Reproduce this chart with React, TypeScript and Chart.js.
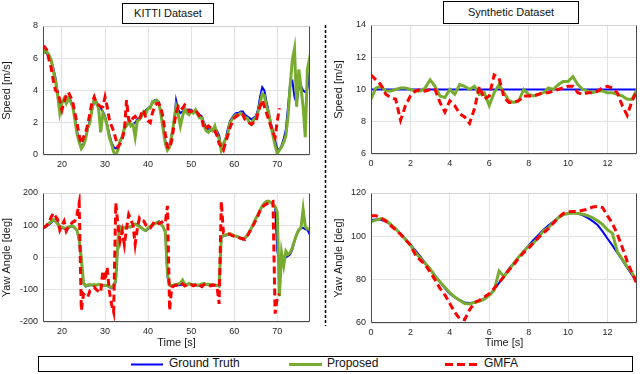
import React, { useEffect, useRef } from "react";
import { Chart, registerables } from "chart.js";

Chart.register(...registerables);

// ---------------- DATA ----------------
const panelTitles = ["KITTI Dataset", "Synthetic Dataset"];
const legendLabels = ["Ground Truth", "Proposed", "GMFA"];
const speedTitle = "Speed [m/s]";
const yawTitle = "Yaw Angle [deg]";
const timeTitle = "Time [s]";

const kittiTime = [
  15.5, 16, 16.5, 17, 17.5, 18, 18.5, 19, 19.5, 20,
  20.5, 21, 21.5, 22, 22.5, 23, 23.5, 24, 24.5, 25,
  25.5, 26, 26.5, 27, 27.5, 28, 28.5, 29, 29.5, 30,
  30.5, 31, 31.5, 32, 32.5, 33, 33.5, 34, 34.5, 35,
  35.5, 36, 36.5, 37, 37.5, 38, 38.5, 39, 39.5, 40,
  40.5, 41, 41.5, 42, 42.5, 43, 43.5, 44, 44.5, 45,
  45.5, 46, 46.5, 47, 47.5, 48, 48.5, 49, 49.5, 50,
  50.5, 51, 51.5, 52, 52.5, 53, 53.5, 54, 54.5, 55,
  55.5, 56, 56.5, 57, 57.5, 58, 58.5, 59, 59.5, 60,
  60.5, 61, 61.5, 62, 62.5, 63, 63.5, 64, 64.5, 65,
  65.5, 66, 66.5, 67, 67.5, 68, 68.5, 69, 69.5, 70,
  70.5, 71, 71.5, 72, 72.5, 73, 73.5, 74, 74.5, 75,
  75.5, 76, 76.5, 77, 77.5, 78,
];

const kittiSpeedTruth = [
  6.4, 6.4, 6.3, 6.1, 5.8, 5.4, 4.8, 3.9, 3.1, 3.3,
  3.4, 3.3, 3.4, 3.4, 3.1, 2.4, 1.5, 0.9, 0.5, 0.7,
  1.1, 1.6, 2.2, 2.8, 3.3, 3.3, 3.0, 2.9, 2.7, 2.4,
  1.9, 1.3, 0.8, 0.5, 0.4, 0.5, 0.8, 1.2, 1.6, 1.9,
  2.0, 1.9, 1.9, 2.0, 2.2, 2.3, 2.5, 2.6, 2.8, 2.9,
  3.0, 3.2, 3.4, 3.4, 3.3, 2.7, 1.8, 0.9, 0.5, 0.6,
  1.3, 2.0, 3.4, 2.8, 2.6, 2.7, 2.8, 2.8, 2.8, 2.8,
  2.7, 2.7, 2.6, 2.5, 2.4, 2.0, 1.7, 1.6, 1.5, 1.6,
  1.7, 1.5, 1.2, 0.5, 0.6, 1.0, 1.6, 2.1, 2.3, 2.5,
  2.6, 2.6, 2.7, 2.7, 2.5, 2.4, 2.3, 2.2, 2.3, 2.4,
  2.8, 3.6, 4.2, 4.0, 3.3, 2.7, 2.0, 1.5, 0.9, 0.4,
  0.3, 0.6, 1.0, 1.6, 3.0, 4.5, 4.6, 3.6, 3.2, 4.2,
  4.3, 4.0, 3.9, 4.1, 5.2, 5.5,
];

const kittiSpeedProposed = [
  6.2, 6.6, 6.4, 6.2, 5.9, 5.2, 4.6, 3.7, 2.6, 3.2,
  3.5, 3.2, 3.5, 3.3, 3.0, 2.2, 1.3, 0.8, 0.4, 0.6,
  1.0, 1.7, 2.0, 2.9, 3.5, 3.2, 2.9, 1.4, 2.6, 2.3,
  1.8, 1.1, 0.7, 0.2, 0.0, 0.3, 0.9, 1.1, 1.7, 1.8,
  2.1, 1.8, 1.9, 1.1, 2.1, 2.2, 2.4, 2.7, 2.6, 2.9,
  2.9, 3.3, 3.3, 3.4, 3.2, 2.5, 1.6, 0.7, 0.3, 0.5,
  1.2, 2.1, 3.0, 2.5, 1.8, 2.4, 2.9, 2.6, 2.5, 2.7,
  2.6, 2.8, 2.5, 2.3, 2.3, 1.8, 1.5, 1.4, 1.6, 1.5,
  1.8, 1.3, 1.0, 0.3, 0.7, 1.0, 1.3, 2.0, 2.2, 2.4,
  2.5, 2.5, 2.6, 2.5, 2.3, 2.3, 2.0, 1.9, 2.2, 2.3,
  2.6, 3.2, 3.8, 3.7, 3.0, 2.6, 1.8, 1.2, 0.6, 0.1,
  0.3, 0.5, 0.8, 1.2, 2.4, 4.3, 5.9, 6.6, 3.0, 5.3,
  4.2, 3.0, 1.1, 5.3, 6.0, 5.8,
];

const kittiSpeedGmfa = [
  6.8, 6.7, 6.5, 5.9, 5.4, 4.6, 4.0, 3.9, 3.4, 2.8,
  3.3, 3.7, 3.9, 3.6, 3.3, 2.6, 2.0, 1.2, 0.7, 1.1,
  1.4, 1.9, 2.6, 3.3, 3.6, 3.2, 3.1, 3.0, 3.0, 3.6,
  3.0, 2.2, 1.8, 1.5, 1.0, 0.5, 0.7, 1.0, 1.5, 3.4,
  2.2, 2.0, 2.3, 2.4, 2.2, 2.2, 2.6, 2.8, 2.2, 2.1,
  2.0, 2.6, 3.0, 3.2, 3.2, 2.9, 2.3, 1.3, 0.5, 0.4,
  0.9, 1.8, 2.6, 3.0, 2.8, 2.9, 3.1, 3.0, 2.7, 2.7,
  2.8, 2.8, 2.6, 2.4, 2.2, 1.6, 1.7, 1.8, 1.7, 1.6,
  1.5, 1.2, 0.7, 0.5, 0.3, 0.8, 1.2, 1.7, 2.0, 2.3,
  2.4, 2.5, 2.6, 2.5, 2.2, 2.1, 2.0, 1.9, 2.0, 2.0,
  2.6, 3.0, 3.4, 3.0, 2.6, 2.2, 1.8, 1.4, 1.1, 2.1,
  2.9, null, null, null, null, null, null, null, null, null,
  null, null, null, null, null, null,
];

const kittiYawTruth = [
  90, 93, 97, 102, 108, 115, 118, 108, 98, 92,
  90, 88, 92, 95, 97, 92, 82, 50, -5, -80,
  -90, -88, -86, -85, -86, -85, -84, -86, -87, -88,
  -88, -92, -95, -90, -75, 45, 97, 93, 92, 93,
  94, 94, 98, 102, 102, 98, 92, 86, 82, 88,
  95, 100, 104, 108, 112, 105, 94, 78, -60, -87,
  -90, -88, -87, -86, -85, -84, -83, -84, -82, -83,
  -85, -86, -87, -86, -84, -82, -83, -84, -85, -86,
  -87, -88, -90, 60, 67, 68, 70, 72, 70, 67,
  65, 62, 58, 56, 60, 67, 78, 90, 105, 120,
  130, 145, 158, 166, 173, 174, 170, 164, 155, 20,
  -10, -8, -5, 0, 5, 10, 25, 50, 70, 85,
  90, 92, 88, 85, 72, 65,
];

const kittiYawProposed = [
  92, 95, 100, 106, 112, 118, 112, 104, 96, 94,
  92, 90, 95, 97, 98, 92, 84, 58, 0, -78,
  -88, -86, -84, -85, -84, -86, -83, -85, -86, -87,
  -86, -90, -93, -86, -70, 55, 95, 90, 92, 94,
  95, 95, 99, 104, 100, 95, 92, 86, 84, 92,
  96, 102, 104, 108, 110, 104, 95, 80, -50, -85,
  -88, -85, -84, -82, -80, -70, -82, -86, -80, -84,
  -84, -85, -86, -84, -82, -80, -84, -83, -84, -85,
  -86, -87, -88, 65, 68, 70, 72, 74, 71, 68,
  66, 63, 59, 57, 61, 68, 80, 92, 106, 121,
  132, 147, 160, 168, 174, 175, 171, 165, 158, 140,
  -120, 15, -25, 20, 10, 15, 32, 52, 72, 86,
  92, 150, 95, 88, 88, 86,
];

const kittiYawGmfa = [
  92, 95, 100, 110, 125, 138, 128, 118, 85, 100,
  113, 82, 95, 103, 110, 113, 133, 169, -164, -113,
  -120, -123, -103, -98, -92, -100, -105, -108, -41, -72,
  -31, -103, -144, -169, 169, 100, 51, 82, 40, 90,
  133, 118, 100, 41, 90, 123, 115, 113, 100, 95,
  92, 100, 113, 110, 105, 108, 112, 108, 160, -164,
  -92, -88, -85, -90, -86, -82, -88, -84, -86, -84,
  -88, -85, -80, -86, -90, -84, -82, -86, -88, -85,
  -86, -90, -144, 174, 77, 77, 74, 72, 68, 66,
  64, 62, 60, 58, 56, 65, 78, 90, 102, 115,
  130, 145, 155, 162, 166, 170, 172, 174, -174, -123,
  -113, null, null, null, null, null, null, null, null, null,
  null, null, null, null, null, null,
];

const synTime = [
  0, 0.25, 0.5, 0.75, 1, 1.25, 1.5, 1.75,
  2, 2.25, 2.5, 2.75, 3, 3.25, 3.5, 3.75,
  4, 4.25, 4.5, 4.75, 5, 5.25, 5.5, 5.75,
  6, 6.25, 6.5, 6.75, 7, 7.25, 7.5, 7.75,
  8, 8.25, 8.5, 8.75, 9, 9.25, 9.5, 9.75,
  10, 10.25, 10.5, 10.75, 11, 11.25, 11.5, 11.75,
  12, 12.25, 12.5, 12.75, 13, 13.25, 13.5,
];

const synSpeedTruth = [
  10, 10, 10, 10, 10, 10, 10, 10,
  10, 10, 10, 10, 10, 10, 10, 10,
  10, 10, 10, 10, 10, 10, 10, 10,
  10, 10, 10, 10, 10, 10, 10, 10,
  10, 10, 10, 10, 10, 10, 10, 10,
  10, 10, 10, 10, 10, 10, 10, 10,
  10, 10, 10, 10, 10, 10, 10,
];

const synSpeedProposed = [
  9.4, 10.1, 10.2, 9.9, 9.9, 10.0, 10.1, 10.1,
  10.0, 9.9, 9.9, 10.1, 10.6, 10.2, 9.6, 9.5,
  10.0, 9.7, 10.3, 10.2, 10.0, 10.2, 9.7, 9.8,
  9.0, 9.8, 10.3, 9.8, 9.3, 9.2, 9.3, 10.0,
  9.7, 9.6, 9.7, 9.8, 10.1, 10.0, 10.3, 10.5,
  10.5, 10.8, 10.3, 10.0, 9.9, 9.8, 9.9, 9.9,
  9.8, 9.8, 9.7, 9.6, 9.4, 9.4, 10.0,
];

const synSpeedGmfa = [
  10.9, 10.6, 10.3, 9.7, 9.5, 9.4, 8.1, 9.0,
  9.6, 9.9, 10.0, 9.9, 10.0, 10.0, 9.2, 8.6,
  9.3, 9.0, 8.5, 8.3, 7.9, 8.8, 10.2, 9.4,
  9.6, 10.9, 10.7, 9.5, 9.2, 9.2, 9.3, 9.6,
  9.6, 9.6, 9.7, 9.8, 9.8, 9.9, 10.0, 10.1,
  10.2, 10.2, 9.8, 9.7, 9.8, 9.8, 9.9, 10.1,
  10.2, 10.1, 9.8, 9.0, 8.4, 9.3, 9.9,
];

const synYawTruth = [
  107.5, 107.8, 107.6, 106.8, 105.5, 103.6, 101.2, 98.8,
  96.2, 93.5, 90.7, 87.8, 85.0, 82.0, 79.0, 76.0,
  73.5, 71.8, 70.5, 69.5, 69.2, 69.5, 70.2, 71.3,
  73.0, 75.5, 78.5, 81.8, 85.0, 87.8, 90.5, 93.2,
  95.8, 98.3, 100.7, 103.0, 105.0, 106.8, 108.5, 110.0,
  110.8, 111.0, 110.5, 109.7, 108.5, 107.0, 105.2, 102.3,
  99.0, 95.8, 92.5, 89.0, 85.5, 82.2, 79.0,
];

const synYawProposed = [
  106.8, 107.5, 108.2, 107.5, 105.5, 103.5, 101.0, 98.5,
  96.0, 92.5, 90.0, 87.5, 85.0, 81.5, 79.0, 76.5,
  74.0, 72.0, 70.5, 69.0, 68.8, 69.5, 70.0, 71.0,
  72.8, 75.0, 84.0, 81.5, 84.5, 87.5, 90.5, 93.0,
  95.5, 97.0, 99.5, 102.5, 104.0, 106.5, 108.5, 110.0,
  110.5, 110.8, 110.5, 110.2, 109.5, 108.5, 107.2, 105.5,
  103.0, 101.5, 93.0, 89.5, 86.0, 83.0, 79.5,
];

const synYawGmfa = [
  109.5, 109.5, 108.5, 107.0, 105.0, 103.0, 101.0, 98.5,
  96.0, 91.5, 89.0, 87.0, 83.5, 80.0, 76.0, 73.0,
  69.0, 65.0, 62.0, 61.5, 66.0, 69.5, 70.5, 72.0,
  73.5, 76.0, 78.5, 81.5, 84.5, 87.0, 90.0, 92.5,
  94.5, 97.0, 99.5, 101.5, 103.5, 106.0, 108.5, 110.5,
  111.3, 111.5, 111.5, 112.0, 112.5, 113.5, 113.8, 113.3,
  109.5, 106.0, 101.0, 95.0, 88.5, 83.0, 78.0,
];

const kittiTimeTicks = [20, 30, 40, 50, 60, 70];
const synTimeTicks = [0, 2, 4, 6, 8, 10, 12];
const kittiSpeedTicks = [0, 2, 4, 6, 8];
const kittiYawTicks = [-200, -100, 0, 100, 200];
const synSpeedTicks = [6, 8, 10, 12, 14];
const synYawTicks = [60, 80, 100, 120];

// ---------------- STYLE ----------------
const FONT = "'Liberation Sans', Arial, sans-serif";
const C_TRUTH = "#0000ff";
const C_PROP = "#77ac30";
const C_GMFA = "#ff0000";

const framePlugin = {
  id: "frame",
  afterDraw(chart: any) {
    const { ctx, chartArea } = chart;
    const l = Math.round(chartArea.left) + 0.5;
    const r = Math.round(chartArea.right) - 0.5;
    const t = Math.round(chartArea.top) + 0.5;
    const b = Math.round(chartArea.bottom) - 0.5;
    ctx.save();
    ctx.lineWidth = 1;
    ctx.strokeStyle = "#d4d4d4";
    ctx.beginPath();
    ctx.moveTo(l, t);
    ctx.lineTo(r, t);
    ctx.stroke();
    ctx.strokeStyle = "#4a4a4a";
    ctx.beginPath();
    ctx.moveTo(l, t);
    ctx.lineTo(l, b);
    ctx.lineTo(r, b);
    ctx.lineTo(r, t);
    ctx.stroke();
    ctx.restore();
  },
};

type PanelProps = {
  left: number;
  top: number;
  width: number;
  height: number;
  padTop: number;
  padRight: number;
  yWidth: number;
  xHeight: number;
  yTitlePad: number;
  time: number[];
  truth: (number | null)[];
  proposed: (number | null)[];
  gmfa: (number | null)[];
  xMin: number;
  xMax: number;
  xTicks: number[];
  yMin: number;
  yMax: number;
  yTicks: number[];
  yTitle: string;
  xTitle?: string;
};

function Panel(p: PanelProps) {
  const ref = useRef<HTMLCanvasElement>(null);
  useEffect(() => {
    const pts = (vals: (number | null)[]) => p.time.map((t, i) => ({ x: t, y: vals[i] }));
    const tickFont = { family: FONT, size: 9 };
    const titleFont = { family: FONT, size: 11 };
    const chart = new Chart(ref.current as HTMLCanvasElement, {
      type: "line",
      data: {
        datasets: [
          {
            label: legendLabels[2],
            data: pts(p.gmfa) as any,
            borderColor: C_GMFA,
            borderWidth: 3,
            borderDash: [7, 4],
            order: 0,
            spanGaps: false,
          },
          {
            label: legendLabels[1],
            data: pts(p.proposed) as any,
            borderColor: C_PROP,
            borderWidth: 3,
            order: 1,
          },
          {
            label: legendLabels[0],
            data: pts(p.truth) as any,
            borderColor: C_TRUTH,
            borderWidth: 2,
            order: 2,
          },
        ],
      },
      options: {
        responsive: false,
        animation: false,
        layout: { padding: { top: p.padTop, right: p.padRight, left: 0, bottom: 0 } },
        plugins: { legend: { display: false }, tooltip: { enabled: false } },
        elements: { point: { radius: 0 }, line: { tension: 0, borderCapStyle: "butt" } },
        scales: {
          x: {
            type: "linear",
            min: p.xMin,
            max: p.xMax,
            afterBuildTicks: (a: any) => {
              a.ticks = p.xTicks.map((v) => ({ value: v }));
            },
            afterFit: (s: any) => {
              s.height = p.xHeight;
            },
            grid: { color: "#e2e2e2", drawTicks: false },
            border: { display: false },
            ticks: {
              padding: 4,
              color: "#262626",
              font: tickFont,
              maxRotation: 0,
              autoSkip: false,
              callback: (v: any) => String(v),
            },
            title: p.xTitle
              ? { display: true, text: p.xTitle, color: "#1a1a1a", font: titleFont, padding: 0 }
              : { display: false },
          },
          y: {
            type: "linear",
            min: p.yMin,
            max: p.yMax,
            afterBuildTicks: (a: any) => {
              a.ticks = p.yTicks.map((v) => ({ value: v }));
            },
            afterFit: (s: any) => {
              s.width = p.yWidth;
            },
            grid: { color: "#e2e2e2", drawTicks: false },
            border: { display: false },
            ticks: {
              padding: 5,
              color: "#262626",
              font: tickFont,
              autoSkip: false,
              callback: (v: any) => String(v),
            },
            title: { display: true, text: p.yTitle, color: "#1a1a1a", font: titleFont, padding: p.yTitlePad },
          },
        },
      },
      plugins: [framePlugin],
    } as any);
    return () => chart.destroy();
  }, []);
  return (
    <div style={{ position: "absolute", left: p.left, top: p.top, width: p.width, height: p.height }}>
      <canvas ref={ref} width={p.width} height={p.height} style={{ display: "block" }} />
    </div>
  );
}

export default function App() {
  return (
    <div
      style={{
        position: "fixed",
        left: 0,
        top: 0,
        width: 640,
        height: 374,
        background: "#fff",
        overflow: "hidden",
        fontFamily: FONT,
      }}
    >
      <Panel
        left={0} top={0} width={320} height={175} padTop={26} padRight={10} yWidth={43} xHeight={20} yTitlePad={0}
        time={kittiTime} truth={kittiSpeedTruth} proposed={kittiSpeedProposed} gmfa={kittiSpeedGmfa}
        xMin={15.6} xMax={77.6} xTicks={kittiTimeTicks} yMin={0} yMax={8} yTicks={kittiSpeedTicks} yTitle={speedTitle}
      />
      <Panel
        left={0} top={175} width={320} height={175} padTop={18} padRight={10} yWidth={43} xHeight={28} yTitlePad={0}
        time={kittiTime} truth={kittiYawTruth} proposed={kittiYawProposed} gmfa={kittiYawGmfa}
        xMin={15.6} xMax={77.6} xTicks={kittiTimeTicks} yMin={-200} yMax={200} yTicks={kittiYawTicks} yTitle={yawTitle}
        xTitle={timeTitle}
      />
      <Panel
        left={330} top={0} width={310} height={175} padTop={25} padRight={3} yWidth={41} xHeight={21} yTitlePad={2}
        time={synTime} truth={synSpeedTruth} proposed={synSpeedProposed} gmfa={synSpeedGmfa}
        xMin={0} xMax={13.5} xTicks={synTimeTicks} yMin={6} yMax={14} yTicks={synSpeedTicks} yTitle={speedTitle}
      />
      <Panel
        left={330} top={175} width={310} height={175} padTop={18} padRight={3} yWidth={41} xHeight={27} yTitlePad={2}
        time={synTime} truth={synYawTruth} proposed={synYawProposed} gmfa={synYawGmfa}
        xMin={0} xMax={13.5} xTicks={synTimeTicks} yMin={60} yMax={120} yTicks={synYawTicks} yTitle={yawTitle}
        xTitle={timeTitle}
      />

      {/* panel titles */}
      <div
        style={{
          position: "absolute", left: 122, top: 3, width: 90, height: 19, border: "1px solid #000",
          fontSize: 11, lineHeight: "19px", textAlign: "center", color: "#111", background: "#fff",
        }}
      >
        {panelTitles[0]}
      </div>
      <div
        style={{
          position: "absolute", left: 443, top: 1, width: 134, height: 21, border: "1px solid #000",
          fontSize: 11, lineHeight: "21px", textAlign: "center", color: "#111", background: "#fff",
        }}
      >
        {panelTitles[1]}
      </div>

      {/* separator */}
      <svg style={{ position: "absolute", left: 0, top: 0 }} width={640} height={374}>
        <line x1={325.5} y1={25} x2={325.5} y2={326} stroke="#000" strokeWidth={1.5} strokeDasharray="3 2" />
      </svg>

      {/* legend */}
      <div
        style={{
          position: "absolute", left: 38, top: 356, width: 593, height: 14, border: "1px solid #000",
          background: "#fff",
        }}
      >
        <svg style={{ position: "absolute", left: 0, top: 0 }} width={593} height={14}>
          <line x1={92} y1={7.5} x2={124} y2={7.5} stroke={C_TRUTH} strokeWidth={2} />
          <line x1={250} y1={7.5} x2={283} y2={7.5} stroke={C_PROP} strokeWidth={3} />
          <line x1={406} y1={7.5} x2={439} y2={7.5} stroke={C_GMFA} strokeWidth={3} strokeDasharray="8 4" />
        </svg>
        <span style={{ position: "absolute", left: 130, top: -1, fontSize: 12, lineHeight: "15px", color: "#111" }}>
          {legendLabels[0]}
        </span>
        <span style={{ position: "absolute", left: 288, top: -1, fontSize: 12, lineHeight: "15px", color: "#111" }}>
          {legendLabels[1]}
        </span>
        <span style={{ position: "absolute", left: 445, top: -1, fontSize: 12, lineHeight: "15px", color: "#111" }}>
          {legendLabels[2]}
        </span>
      </div>
    </div>
  );
}
